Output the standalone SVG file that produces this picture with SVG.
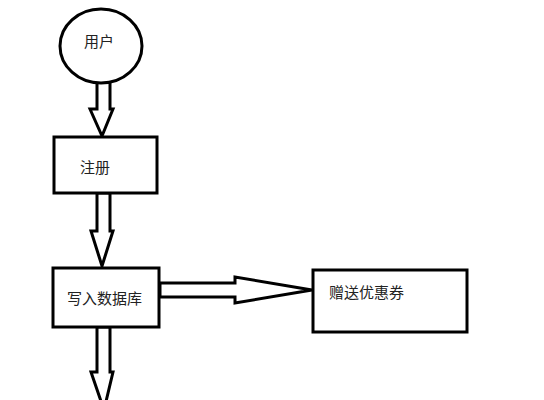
<svg xmlns="http://www.w3.org/2000/svg" width="544" height="400" viewBox="0 0 544 400">
<style>
.n{fill:#fff;stroke:#000;stroke-width:3}
.a{fill:#fff;stroke:#000;stroke-width:3;stroke-linejoin:miter}
.t{font-family:"Noto Sans CJK SC","Noto Sans",sans-serif;font-size:15px;fill:#222}
</style>
<rect width="544" height="400" fill="#fff"/>
<g id="connectors">
<polygon class="a" points="97,82 110,82 110,109 113,109 102,136 90,109 97,109"/>
<polygon class="a" points="97,193 110,193 110,231 113,231 102,266 91,231 97,231"/>
<polygon class="a" points="97,327 110,327 110,372 113,372 104,410 91,372 97,372"/>
<polygon class="a" points="160,283 235,283 235,277 312,290 235,303 235,297 160,297"/>
</g>
<g id="user">
<ellipse class="n" cx="101" cy="46" rx="41" ry="37"/>
<text class="t" x="84" y="47">用户</text>
</g>
<g id="register">
<rect class="n" x="54" y="137" width="103" height="56"/>
<text class="t" x="80" y="173">注册</text>
</g>
<g id="db">
<rect class="n" x="53" y="268" width="106" height="59"/>
<text class="t" x="67" y="304">写入数据库</text>
</g>
<g id="coupon">
<rect class="n" x="313" y="270" width="154" height="62"/>
<text class="t" x="329" y="298">赠送优惠券</text>
</g>
</svg>
